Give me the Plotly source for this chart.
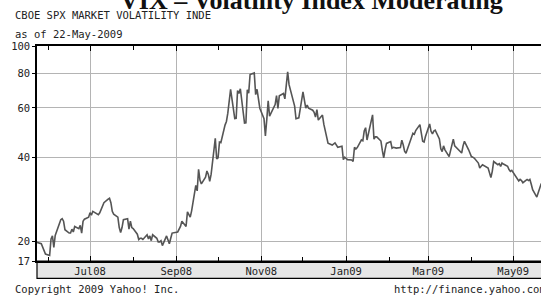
import math
import pandas as pd
import plotly.graph_objects as go

# ---- data (VIX daily closes) ----
holidays = ["2008-05-26", "2008-07-04", "2008-09-01", "2008-11-27", "2008-12-25",
            "2009-01-01", "2009-01-19", "2009-02-16", "2009-04-10"]

vix_may08 = [20.1, 19.9, 19.6, 19.1, 18.5, 18.0]
vix_jun08 = [17.8, 20.4, 20.9, 19.0, 21.0, 23.4, 23.9, 24.1, 23.6, 22.0, 21.4,
             21.4, 22.1, 21.6, 22.6, 22.2, 22.8, 21.4, 23.6, 24.0, 24.4]
vix_jul08 = [25.3, 24.8, 25.6, 24.9, 25.3, 26.1, 26.5, 27.5, 28.3, 28.5, 27.5,
             25.6, 25.0, 24.4, 22.4, 21.5, 22.4, 23.9, 24.1, 22.1, 23.6, 22.4]
vix_aug08 = [22.2, 21.2, 20.3, 20.5, 20.5, 20.3, 21.1, 20.4, 20.9, 20.1, 21.1,
             20.5, 19.9, 19.9, 20.1, 19.3, 20.9, 20.1, 19.6, 20.5, 21.4]
vix_sep08 = [21.6, 22.0, 22.6, 23.6, 22.6, 25.5, 24.9, 24.4, 25.7, 31.7, 30.3,
             36.2, 33.1, 32.1, 33.9, 35.7, 34.7, 32.8, 34.7, 46.7, 39.4]
vix_oct08 = [39.8, 45.3, 45.1, 52.1, 53.7, 57.5, 63.9, 70.0, 55.0, 55.1, 69.3,
             67.6, 70.3, 53.0, 53.1, 69.7, 67.8, 79.1, 80.1, 67.0, 70.0, 62.9, 59.9]
vix_nov08 = [54.9, 47.7, 54.6, 63.7, 56.1, 60.0, 61.7, 66.5, 59.8, 66.3, 67.6,
             64.7, 74.3, 80.9, 72.7, 64.7, 60.9, 54.9, 55.3]
vix_dec08 = [68.5, 63.0, 59.9, 61.4, 59.9, 58.9, 57.9, 55.7, 59.2, 54.3, 56.6,
             52.4, 49.8, 47.3, 44.9, 44.2, 44.6, 45.0, 43.4, 43.8, 39.2, 40.0]
vix_jan09 = [39.2, 39.1, 38.6, 43.4, 42.8, 43.3, 46.1, 45.8, 49.6, 51.0, 46.1,
             56.7, 46.4, 47.3, 47.3, 45.7, 42.3, 39.8, 42.6, 44.8]
vix_feb09 = [45.5, 43.1, 43.4, 43.3, 43.1, 43.3, 46.0, 44.3, 42.0, 41.3, 46.5,
             48.7, 48.3, 49.8, 52.3, 49.0, 45.6, 45.3, 47.4]
vix_mar09 = [52.6, 49.5, 48.5, 49.6, 50.0, 46.5, 42.9, 41.9, 43.9, 42.5, 40.2,
             42.5, 44.6, 46.4, 43.9, 42.5, 42.0, 41.4, 43.9, 45.6, 42.5, 41.4]
vix_apr09 = [40.2, 40.0, 39.7, 38.1, 36.6, 37.1, 37.6, 36.6, 34.7, 33.8, 35.6,
             38.6, 37.6, 37.9, 37.1, 38.1, 37.8, 37.1, 36.1, 35.6, 35.9]
vix_may09 = [35.2, 33.3, 32.9, 33.3, 33.0, 32.4, 33.3, 33.0, 33.3, 32.0, 30.6,
             28.8, 29.9, 31.1, 32.0, 32.6]

tick_dates = ["2008-07-01", "2008-09-01", "2008-11-01", "2009-01-01", "2009-03-01", "2009-05-01"]
tick_labels = ["Jul08", "Sep08", "Nov08", "Jan09", "Mar09", "May09"]
minor_dates = ["2008-06-01", "2008-08-01", "2008-10-01", "2008-12-01", "2009-02-01", "2009-04-01"]
y_ticks = [17, 20, 40, 60, 80, 100]

days = pd.bdate_range("2008-05-22", "2009-05-22")
days = days[~days.isin(pd.to_datetime(holidays))]
vix = (vix_may08 + vix_jun08 + vix_jul08 + vix_aug08 + vix_sep08 + vix_oct08 +
       vix_nov08 + vix_dec08 + vix_jan09 + vix_feb09 + vix_mar09 + vix_apr09 + vix_may09)
assert len(days) == len(vix), (len(days), len(vix))

# ---- figure ----
W, H = 541, 296
L, R, T, B = 37, 0, 46, 35
PW, PH = W - L - R, H - T - B
MONO = "DejaVu Sans Mono"
TXT = "#222222"


def px(x):
    return (x - L) / PW


def py(y):
    return (H - B - y) / PH


fig = go.Figure()
fig.add_trace(go.Scatter(x=days, y=vix, mode="lines",
                         line=dict(color="#555555", width=1.6),
                         hoverinfo="skip", showlegend=False))

fig.update_layout(
    width=W, height=H,
    margin=dict(l=L, r=R, t=T, b=B),
    paper_bgcolor="white", plot_bgcolor="white",
    showlegend=False,
    xaxis=dict(
        type="date", range=["2008-05-23 22:00", "2009-05-21 00:00"],
        tickmode="array", tickvals=tick_dates, ticktext=tick_labels,
        showgrid=True, gridcolor="#b4b4b4", gridwidth=1,
        ticks="inside", ticklen=5, tickcolor="#000", tickwidth=1,
        showline=True, linecolor="#000", linewidth=1.5, mirror="ticks",
        minor=dict(tickmode="array", tickvals=minor_dates, ticks="inside",
                   ticklen=4, tickcolor="#000", tickwidth=1, showgrid=False),
        tickfont=dict(family=MONO, size=10.5, color=TXT),
        ticklabelstandoff=0,
        zeroline=False, fixedrange=True,
    ),
    yaxis=dict(
        type="log", range=[math.log10(17), 2],
        tickmode="array", tickvals=y_ticks, ticktext=[str(v) for v in y_ticks],
        showgrid=True, gridcolor="#b4b4b4", gridwidth=1,
        ticks="outside", ticklen=3, tickcolor="#000",
        showline=True, linecolor="#000", linewidth=1.5,
        tickfont=dict(family=MONO, size=10.5, color=TXT),
        zeroline=False, fixedrange=True,
    ),
)

# grey date strip under the plot
fig.add_shape(type="rect", xref="paper", yref="paper",
              x0=0, x1=1.02, y0=py(278.3), y1=0,
              fillcolor="#e6e6e6", line=dict(color="#000", width=1.2), layer="below")

ann = [
    dict(text="CBOE SPX MARKET VOLATILITY INDE", x=px(13), y=py(15.5)),
    dict(text="as of 22-May-2009", x=px(13), y=py(34)),
    dict(text="Copyright 2009 Yahoo! Inc.", x=px(13), y=py(289)),
    dict(text="http://finance.yahoo.com", x=px(392), y=py(289)),
]
for a in ann:
    fig.add_annotation(xref="paper", yref="paper", xanchor="left", yanchor="middle",
                       showarrow=False, font=dict(family=MONO, size=10.5, color=TXT), **a)

fig.add_annotation(text="<b>VIX \u2013 Volatility Index Moderating</b>",
                   xref="paper", yref="paper", x=px(505), y=py(17),
                   xanchor="right", yanchor="bottom", showarrow=False,
                   font=dict(family="Liberation Serif", size=26, color="#111"))

fig.write_html("out.html", config={"displayModeBar": False},
               post_script="document.body.style.margin='0';document.body.style.overflow='hidden';")
